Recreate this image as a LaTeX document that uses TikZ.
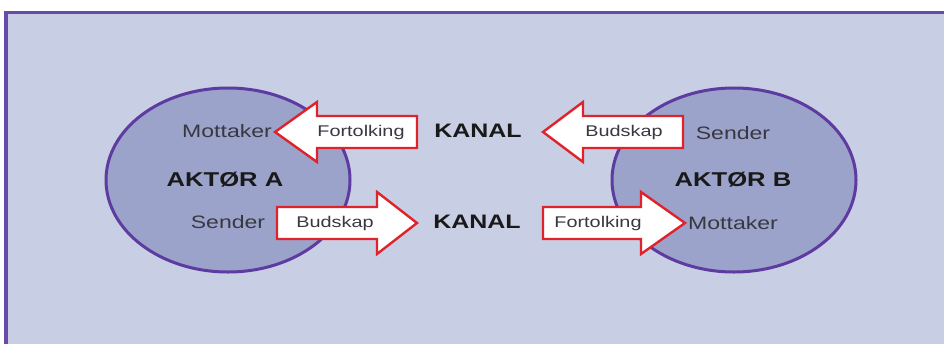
\documentclass[tikz,border=0pt]{standalone}
\usepackage{fontspec}
\setmainfont{Liberation Sans}[FakeStretch=1.28]
\definecolor{panel}{HTML}{C8CEE4}
\definecolor{frameline}{HTML}{6A4AA8}
\definecolor{actorfill}{HTML}{9BA3CB}
\definecolor{actorline}{HTML}{5E3BA0}
\definecolor{arrowline}{HTML}{E0222A}
\definecolor{labeltext}{HTML}{383840}
\tikzset{
  actor/.style={ellipse, draw=actorline, line width=3pt, fill=actorfill,
    minimum width=244pt, minimum height=184pt, inner sep=0pt},
  role/.style={text=labeltext, font=\fontsize{18}{20}\selectfont, inner sep=0pt},
  actorname/.style={text=black!90, font=\bfseries\fontsize{20}{22}\selectfont, inner sep=0pt},
  channel/.style={text=black!90, font=\bfseries\fontsize{19.5}{22}\selectfont, inner sep=0pt},
  bigarrow/.style={draw=arrowline, line width=2.4pt, fill=white, line join=miter},
  arrowtext/.style={text=labeltext, font=\fontsize{15.5}{18}\selectfont, inner sep=0pt},
}
\usetikzlibrary{shapes.geometric}
\begin{document}
\begin{tikzpicture}[x=1pt, y=-1pt]
  \useasboundingbox (0,0) rectangle (944,343);
  % panel with its frame (runs past the right and bottom edge)
  \fill[white] (0,0) rectangle (944,343);
  \draw[frameline, line width=3.5pt, fill=panel] (6,12.5) rectangle (960,360);

  % the two actors
  \node[actor] (actA) at (228,180) {};
  \node[actor] (actB) at (734,180) {};

  % interpretation / message arrows
  \draw[bigarrow] (417,116) -- (317,116) -- (317,102) -- (275,132) -- (317,162) -- (317,148) -- (417,148) -- cycle;
  \draw[bigarrow] (277,207) -- (377,207) -- (377,192) -- (417,223) -- (377,254) -- (377,239) -- (277,239) -- cycle;
  \draw[bigarrow] (683,116) -- (583,116) -- (583,102) -- (543,132) -- (583,162) -- (583,148) -- (683,148) -- cycle;
  \draw[bigarrow] (543,207) -- (641,207) -- (641,192) -- (685,223) -- (641,254) -- (641,239) -- (543,239) -- cycle;

  \node[arrowtext] (tA) at (361,132) {Fortolking};
  \node[arrowtext] (bA) at (335,223) {Budskap};
  \node[arrowtext] (bB) at (624,132) {Budskap};
  \node[arrowtext] (tB) at (598,223) {Fortolking};

  % labels of actor A
  \node[role] (recA) at (227,131) {Mottaker};
  \node[actorname] (nameA) at (225,180) {AKTØR A};
  \node[role] (sndA) at (228,222) {Sender};

  % labels of actor B
  \node[role] (sndB) at (733,133) {Sender};
  \node[actorname] (nameB) at (733,180) {AKTØR B};
  \node[role] (recB) at (733,223) {Mottaker};

  % the channels
  \node[channel] (chTop) at (478,131) {KANAL};
  \node[channel] (chBot) at (477,222) {KANAL};
\end{tikzpicture}
\end{document}
